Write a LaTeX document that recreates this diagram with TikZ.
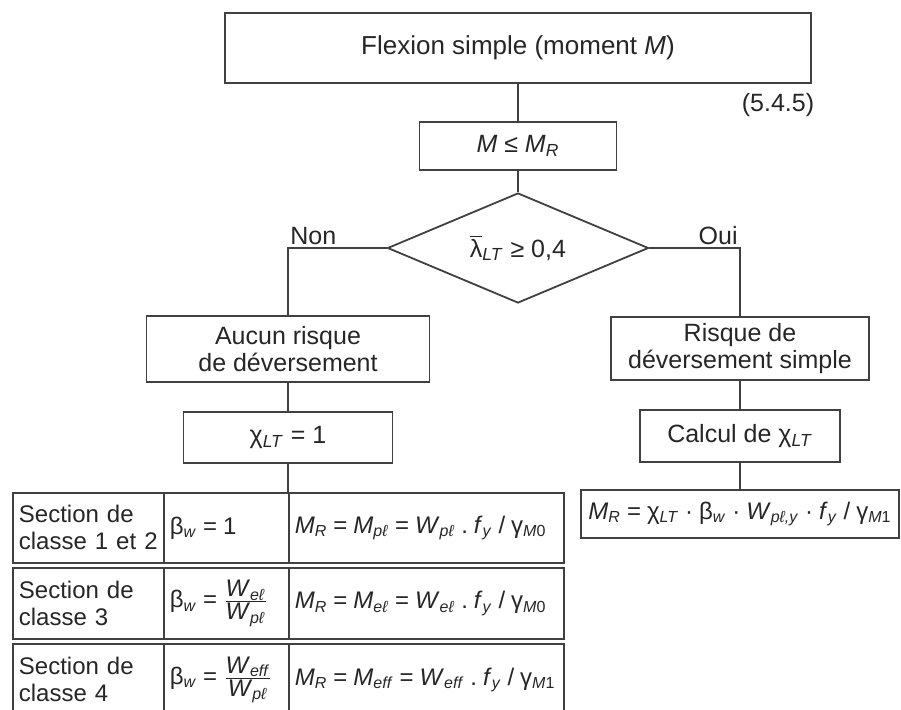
\documentclass[tikz,border=0pt]{standalone}
\usepackage{fontspec}
\setmainfont{Liberation Sans}
\usetikzlibrary{positioning}
\usetikzlibrary{shapes.geometric}

% italic symbol with an italic index
\newcommand{\symsub}[2]{\textit{#1}\textsubscript{\textit{#2}}}
% one formula line with narrow word spaces
\newcommand{\fml}[1]{\mbox{\spaceskip=0.25em\relax\xspaceskip=0.25em\relax #1}}

\tikzstyle{box}=[rectangle,draw=black!75,line width=0.9pt,text=black!85,align=center,inner sep=2pt,font=\fontsize{12.5}{13.5}\selectfont]
\tikzstyle{decision}=[diamond,draw=black!75,line width=0.9pt,text=black!85,aspect=2.4,inner sep=0pt,minimum width=130.5pt,minimum height=55pt,font=\fontsize{12.5}{13.5}\selectfont]
\tikzstyle{cell}=[rectangle,draw=black!75,line width=0.9pt,text=black!85,anchor=north west,align=left,inner sep=3pt,font=\fontsize{12}{13.5}\selectfont]
\tikzstyle{link}=[draw=black!75,line width=0.9pt]
\tikzstyle{answer}=[text=black!85,inner sep=1pt,font=\fontsize{12.5}{13.5}\selectfont]

\begin{document}
\begin{tikzpicture}[x=0.5pt,y=-0.5pt]

  \useasboundingbox (0,0) rectangle (901,709);
  \clip (0,0) rectangle (901,709);

  % main chain
  \node[box,minimum width=293pt,minimum height=35pt,font=\fontsize{13}{15}\selectfont] (flex) at (518,48) {Flexion simple (moment \textit{M})};
  \node[answer] (clause) at (778,105) {(5.4.5)};
  \node[box,minimum width=98.5pt,minimum height=24pt] (mcheck) at (518,146) {\textit{M} ≤ \symsub{M}{R}};
  \node[decision] (slender) at (518,248) {$\overline{\mbox{λ}}$\textsubscript{\textit{LT}} ≥ 0,4};

  % Non branch
  \node[box,minimum width=141.5pt,minimum height=33pt] (nonrisk) at (288,349) {Aucun risque\\de déversement};
  \node[box,minimum width=104.5pt,minimum height=25.5pt] (chione) at (288,437.5) {χ\textsubscript{\textit{LT}} = 1};

  % Oui branch
  \node[box,minimum width=129pt,minimum height=31.5pt] (risk) at (740,348.5) {Risque de\\déversement simple};
  \node[box,minimum width=100pt,minimum height=26pt] (chicalc) at (740,436) {Calcul de χ\textsubscript{\textit{LT}}};
  \node[box,minimum width=159pt,minimum height=24pt,inner sep=1pt,font=\fontsize{12}{13.5}\selectfont] (mrlt) at (740,514)
    {\fml{\symsub{M}{R} = χ\textsubscript{\textit{LT}} · β\textsubscript{\textit{w}} · \symsub{W}{pℓ,y} · \symsub{f}{y} / γ\textsubscript{\textit{M}1}}};

  \node[answer,anchor=south west] (nonlbl) at (288,247) {Non};
  \node[answer,anchor=south east] (ouilbl) at (740,247) {Oui};

  % section classes
  \node[cell,text width=69.5pt,minimum height=35pt] (sec1) at (12,492) {Section de\\classe 1 et 2};
  \node[cell,text width=56.5pt,minimum height=35pt] (bw1) at (163,492) {\fml{β\textsubscript{\textit{w}} = 1}};
  \node[cell,text width=131.5pt,minimum height=35pt] (mr1) at (288,492)
    {\fml{\symsub{M}{R} = \symsub{M}{pℓ} = \symsub{W}{pℓ} . \symsub{f}{y} / γ\textsubscript{\textit{M}0}}};

  \node[cell,text width=69.5pt,minimum height=35.5pt] (sec2) at (12,567) {Section de\\classe 3};
  \node[cell,text width=56.5pt,minimum height=35.5pt] (bw2) at (163,567)
    {\fml{β\textsubscript{\textit{w}} = $\frac{\mbox{\symsub{W}{eℓ}}}{\mbox{\symsub{W}{pℓ}}}$}};
  \node[cell,text width=131.5pt,minimum height=35.5pt] (mr2) at (288,567)
    {\fml{\symsub{M}{R} = \symsub{M}{eℓ} = \symsub{W}{eℓ} . \symsub{f}{y} / γ\textsubscript{\textit{M}0}}};

  \node[cell,text width=69.5pt,minimum height=36pt] (sec3) at (12,643) {Section de\\classe 4};
  \node[cell,text width=56.5pt,minimum height=36pt] (bw3) at (163,643)
    {\fml{β\textsubscript{\textit{w}} = $\frac{\mbox{\symsub{W}{eff}}}{\mbox{\symsub{W}{pℓ}}}$}};
  \node[cell,text width=131.5pt,minimum height=36pt] (mr3) at (288,643)
    {\fml{\symsub{M}{R} = \symsub{M}{eff} = \symsub{W}{eff} . \symsub{f}{y} / γ\textsubscript{\textit{M}1}}};

  % connectors
  \draw[link] (flex) -- (mcheck);
  \draw[link] (mcheck) -- (slender);
  \draw[link] (slender.west) -| (nonrisk.north);
  \draw[link] (slender.east) -| (risk.north);
  \draw[link] (nonrisk) -- (chione);
  \draw[link] (chione) -- (mr1.north west);
  \draw[link] (risk) -- (chicalc);
  \draw[link] (chicalc) -- (mrlt);

\end{tikzpicture}
\end{document}
